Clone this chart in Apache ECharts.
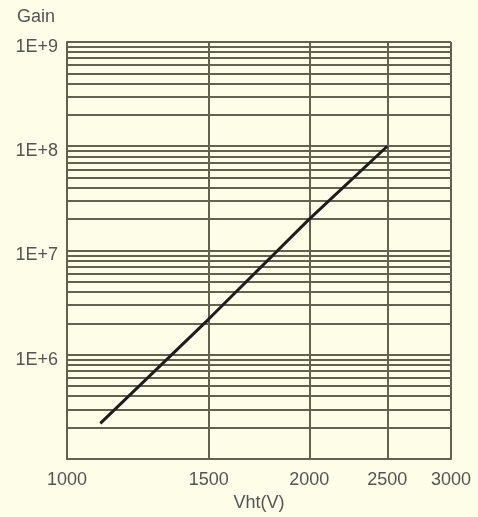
<!DOCTYPE html>
<html>
<head>
<meta charset="utf-8">
<script src="https://cdn.jsdelivr.net/npm/echarts@6/dist/echarts.min.js"></script>
<style>
  html, body { margin: 0; padding: 0; background: #fdfde8; }
  #chart { width: 478px; height: 517px; }
</style>
</head>
<body>
<div id="chart"></div>
<script>
// Gain versus high voltage (log-log)
const voltages = [1100, 1500, 2000, 2500];
const gains = [2.2e5, 2.2e6, 2.0e7, 1.0e8];

// Axis tick values
const xTickValues = [1000, 1500, 2000, 2500, 3000];
const yLabelValues = [1e6, 1e7, 1e8, 1e9];
const yDecades = [1e5, 1e6, 1e7, 1e8];
const yMantissas = [1, 2, 3, 4, 5, 6, 7, 8, 9];

const yGridValues = [];
yDecades.forEach(d => yMantissas.forEach(m => yGridValues.push(m * d)));
yGridValues.push(1e9);

const gridColor = '#62624f';
const textColor = '#555555';
const font = 'Liberation Sans, Arial, sans-serif';

const chart = echarts.init(document.getElementById('chart'), null, { renderer: 'canvas' });
chart.setOption({
  backgroundColor: '#fdfde8',
  animation: false,
  grid: { left: 67, right: 27, top: 42, bottom: 58, containLabel: false },
  xAxis: {
    type: 'log',
    min: 1000,
    max: 3000,
    name: 'Vht(V)',
    nameLocation: 'middle',
    nameGap: 29,
    nameTextStyle: { color: textColor, fontSize: 18, fontFamily: font },
    axisLine: { show: true, lineStyle: { color: gridColor, width: 2 } },
    axisTick: { show: false, customValues: xTickValues },
    axisLabel: {
      customValues: xTickValues,
      color: textColor, fontSize: 18, fontFamily: font, margin: 12,
      formatter: v => String(Math.round(v))
    },
    splitLine: { show: true, lineStyle: { color: gridColor, width: 2 } },
    minorTick: { show: false },
    minorSplitLine: { show: false }
  },
  yAxis: {
    type: 'log',
    min: 1e5,
    max: 1e9,
    name: 'Gain',
    nameLocation: 'end',
    nameGap: 16,
    nameTextStyle: { color: textColor, fontSize: 18, fontFamily: font, align: 'right', padding: [0, 12, 0, 0] },
    axisLine: { show: true, lineStyle: { color: gridColor, width: 2 } },
    axisTick: { show: false, customValues: yGridValues },
    axisLabel: {
      customValues: yLabelValues,
      color: textColor, fontSize: 18, fontFamily: font, margin: 9,
      verticalAlign: 'top', lineHeight: 10,
      formatter: v => '1E+' + Math.round(Math.log10(v))
    },
    splitLine: { show: true, lineStyle: { color: gridColor, width: 2 } },
    minorTick: { show: false },
    minorSplitLine: { show: false }
  },
  series: [{
    type: 'line',
    data: voltages.map((v, i) => [v, gains[i]]),
    showSymbol: false,
    lineStyle: { color: '#1e1e1e', width: 3 }
  }]
});
</script>
</body>
</html>
